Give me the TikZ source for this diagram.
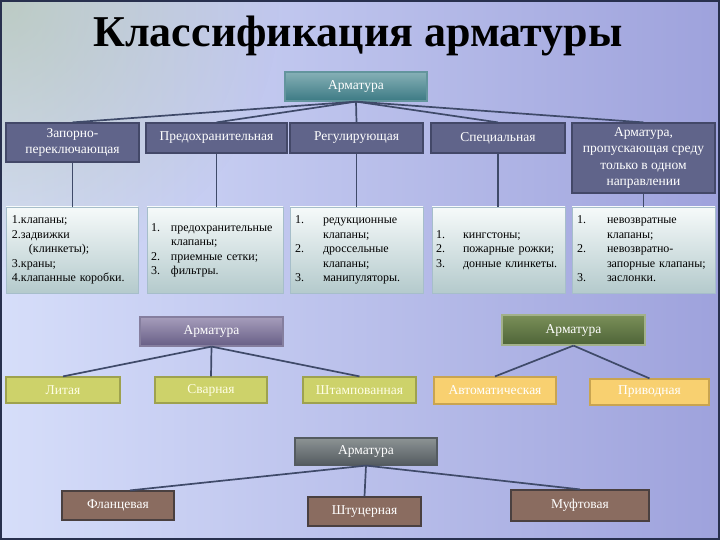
\documentclass[tikz,border=0pt]{standalone}
\usepackage{fontspec}
\setmainfont{Liberation Serif}
\usetikzlibrary{fadings}
\definecolor{bgleft}{HTML}{D6DEFA}
\definecolor{bgright}{HTML}{9EA2DC}
\definecolor{tint}{HTML}{A7BC98}
\definecolor{frame}{HTML}{28304E}
\definecolor{linkc}{HTML}{3F4A69}
\definecolor{slate}{HTML}{60648A}
\definecolor{slateedge}{HTML}{434868}
\definecolor{tealtop}{HTML}{86B0B6}
\definecolor{tealbot}{HTML}{3C7A84}
\definecolor{listtop}{HTML}{F6FAFA}
\definecolor{listbot}{HTML}{B4CACC}
\definecolor{listedge}{HTML}{A6BECA}
\definecolor{purptop}{HTML}{A69DBB}
\definecolor{purpbot}{HTML}{675E86}
\definecolor{greentop}{HTML}{7A8F58}
\definecolor{greenbot}{HTML}{4E6438}
\definecolor{lime}{HTML}{CDD26A}
\definecolor{limeedge}{HTML}{9EA24E}
\definecolor{amber}{HTML}{F8D070}
\definecolor{amberedge}{HTML}{C9A450}
\definecolor{graytop}{HTML}{8C9394}
\definecolor{graybot}{HTML}{545B60}
\definecolor{brown}{HTML}{8A6C60}
\definecolor{brownedge}{HTML}{4A4040}
\tikzfading[name=cornerfade, inner color=transparent!45, outer color=transparent!100]
\tikzset{
  box/.style={inner sep=2, align=center, text=white, line width=1.2,
    font=\fontsize{13.5}{16.5}\selectfont},
  rootbox/.style={box, draw=tealbot!80!white, top color=tealtop, bottom color=tealbot},
  hdr/.style={box, draw=slateedge, fill=slate, minimum height=30},
  listbox/.style={draw=listedge, top color=listtop, bottom color=listbot, line width=0.8,
    text=black, align=left, minimum height=86, font=\fontsize{12}{14.5}\selectfont},
  purpbox/.style={box, draw=purpbot!80!white, top color=purptop, bottom color=purpbot},
  greenbox/.style={box, draw=greentop!70!white, top color=greentop, bottom color=greenbot},
  limebox/.style={box, draw=limeedge, fill=lime, text=white!90!yellow},
  amberbox/.style={box, draw=amberedge, fill=amber},
  graybox/.style={box, draw=graybot, top color=graytop, bottom color=graybot},
  brownbox/.style={box, draw=brownedge, fill=brown},
  link/.style={draw=linkc, line width=1.7}
}
\begin{document}
\begin{tikzpicture}[x=1pt,y=-1pt]
\useasboundingbox (0,0) rectangle (720,540);
\fill[left color=bgleft, right color=bgright] (0,0) rectangle (720,540);
\begin{scope}
  \clip (0,0) rectangle (720,540);
  \fill[tint, path fading=cornerfade] (0,0) circle (280);
\end{scope}
\draw[frame, line width=2] (1,1) rectangle (719,539);

\node[font=\fontsize{44}{50}\selectfont\bfseries] (title) at (358,36) {Классификация арматуры};

\node[rootbox, minimum width=142, minimum height=29] (arm) at (356,86.5) {Арматура};
\node[hdr, minimum width=133, minimum height=39] (zap) at (72.5,142.5) {Запорно-\\переключающая};
\node[hdr, minimum width=141] (pre) at (216.5,138) {Предохранительная};
\node[hdr, minimum width=133] (reg) at (356.5,138) {Регулирующая};
\node[hdr, minimum width=134] (spe) at (498,138) {Специальная};
\node[hdr, minimum width=143, minimum height=70] (odn) at (643.5,158) {Арматура,\\пропускающая среду\\только в одном\\направлении};

\node[listbox, minimum width=132, text width=120, inner xsep=6] (lzap) at (72,250)
  {1.клапаны;\\2.задвижки\\\hspace*{17pt}(клинкеты);\\3.краны;\\4.клапанные коробки.};
\node[listbox, minimum width=136, text width=128, inner xsep=4] (lpre) at (215,250)
  {\begin{tabular}{@{}p{20pt}@{}l@{}}1.&предохранительные\\&клапаны;\\2.&приемные сетки;\\3.&фильтры.\end{tabular}};
\node[listbox, minimum width=133, text width=123, inner xsep=5] (lreg) at (356.5,250)
  {\begin{tabular}{@{}p{28pt}@{}l@{}}1.&редукционные\\&клапаны;\\2.&дроссельные\\&клапаны;\\3.&манипуляторы.\end{tabular}};
\node[listbox, minimum width=133, text width=125, inner xsep=4] (lspe) at (498.5,250)
  {\begin{tabular}{@{}p{27pt}@{}l@{}}1.&кингстоны;\\2.&пожарные рожки;\\3.&донные клинкеты.\end{tabular}};
\node[listbox, minimum width=143, text width=133, inner xsep=5] (lodn) at (643.5,250)
  {\begin{tabular}{@{}p{30pt}@{}l@{}}1.&невозвратные\\&клапаны;\\2.&невозвратно-\\&запорные клапаны;\\3.&заслонки.\end{tabular}};

\foreach \h in {zap,pre,reg,spe,odn} {\draw[link] (arm.south) -- (\h.north);}
\foreach \h/\l in {zap/lzap,pre/lpre,reg/lreg,spe/lspe,odn/lodn} {\draw[link, line width=1.6] (\h.south) -- (\h.south |- \l.north);}

\node[purpbox, minimum width=143, minimum height=29] (armc) at (211.5,331.5) {Арматура};
\node[limebox, minimum width=114, minimum height=26] (lit) at (63,390) {Литая};
\node[limebox, minimum width=112, minimum height=26] (sva) at (211,390) {Сварная};
\node[limebox, minimum width=113, minimum height=26] (sht) at (359.5,390) {Штампованная};
\foreach \n in {lit,sva,sht} {\draw[link] (armc.south) -- (\n.north);}

\node[greenbox, minimum width=143, minimum height=30] (armd) at (573.5,330) {Арматура};
\node[amberbox, minimum width=122, minimum height=27] (avt) at (495,390.5) {Автоматическая};
\node[amberbox, minimum width=119, minimum height=26] (pri) at (649.5,392) {Приводная};
\foreach \n in {avt,pri} {\draw[link] (armd.south) -- (\n.north);}

\node[graybox, minimum width=142, minimum height=27] (armk) at (366,451.5) {Арматура};
\node[brownbox, minimum width=112, minimum height=29] (fla) at (118,505.5) {Фланцевая};
\node[brownbox, minimum width=113, minimum height=29] (shu) at (364.5,511.5) {Штуцерная};
\node[brownbox, minimum width=138, minimum height=31] (muf) at (580,505.5) {Муфтовая};
\draw[link] (armk.south) -- ([xshift=12pt]fla.north);
\foreach \n in {shu,muf} {\draw[link] (armk.south) -- (\n.north);}
\end{tikzpicture}
\end{document}
